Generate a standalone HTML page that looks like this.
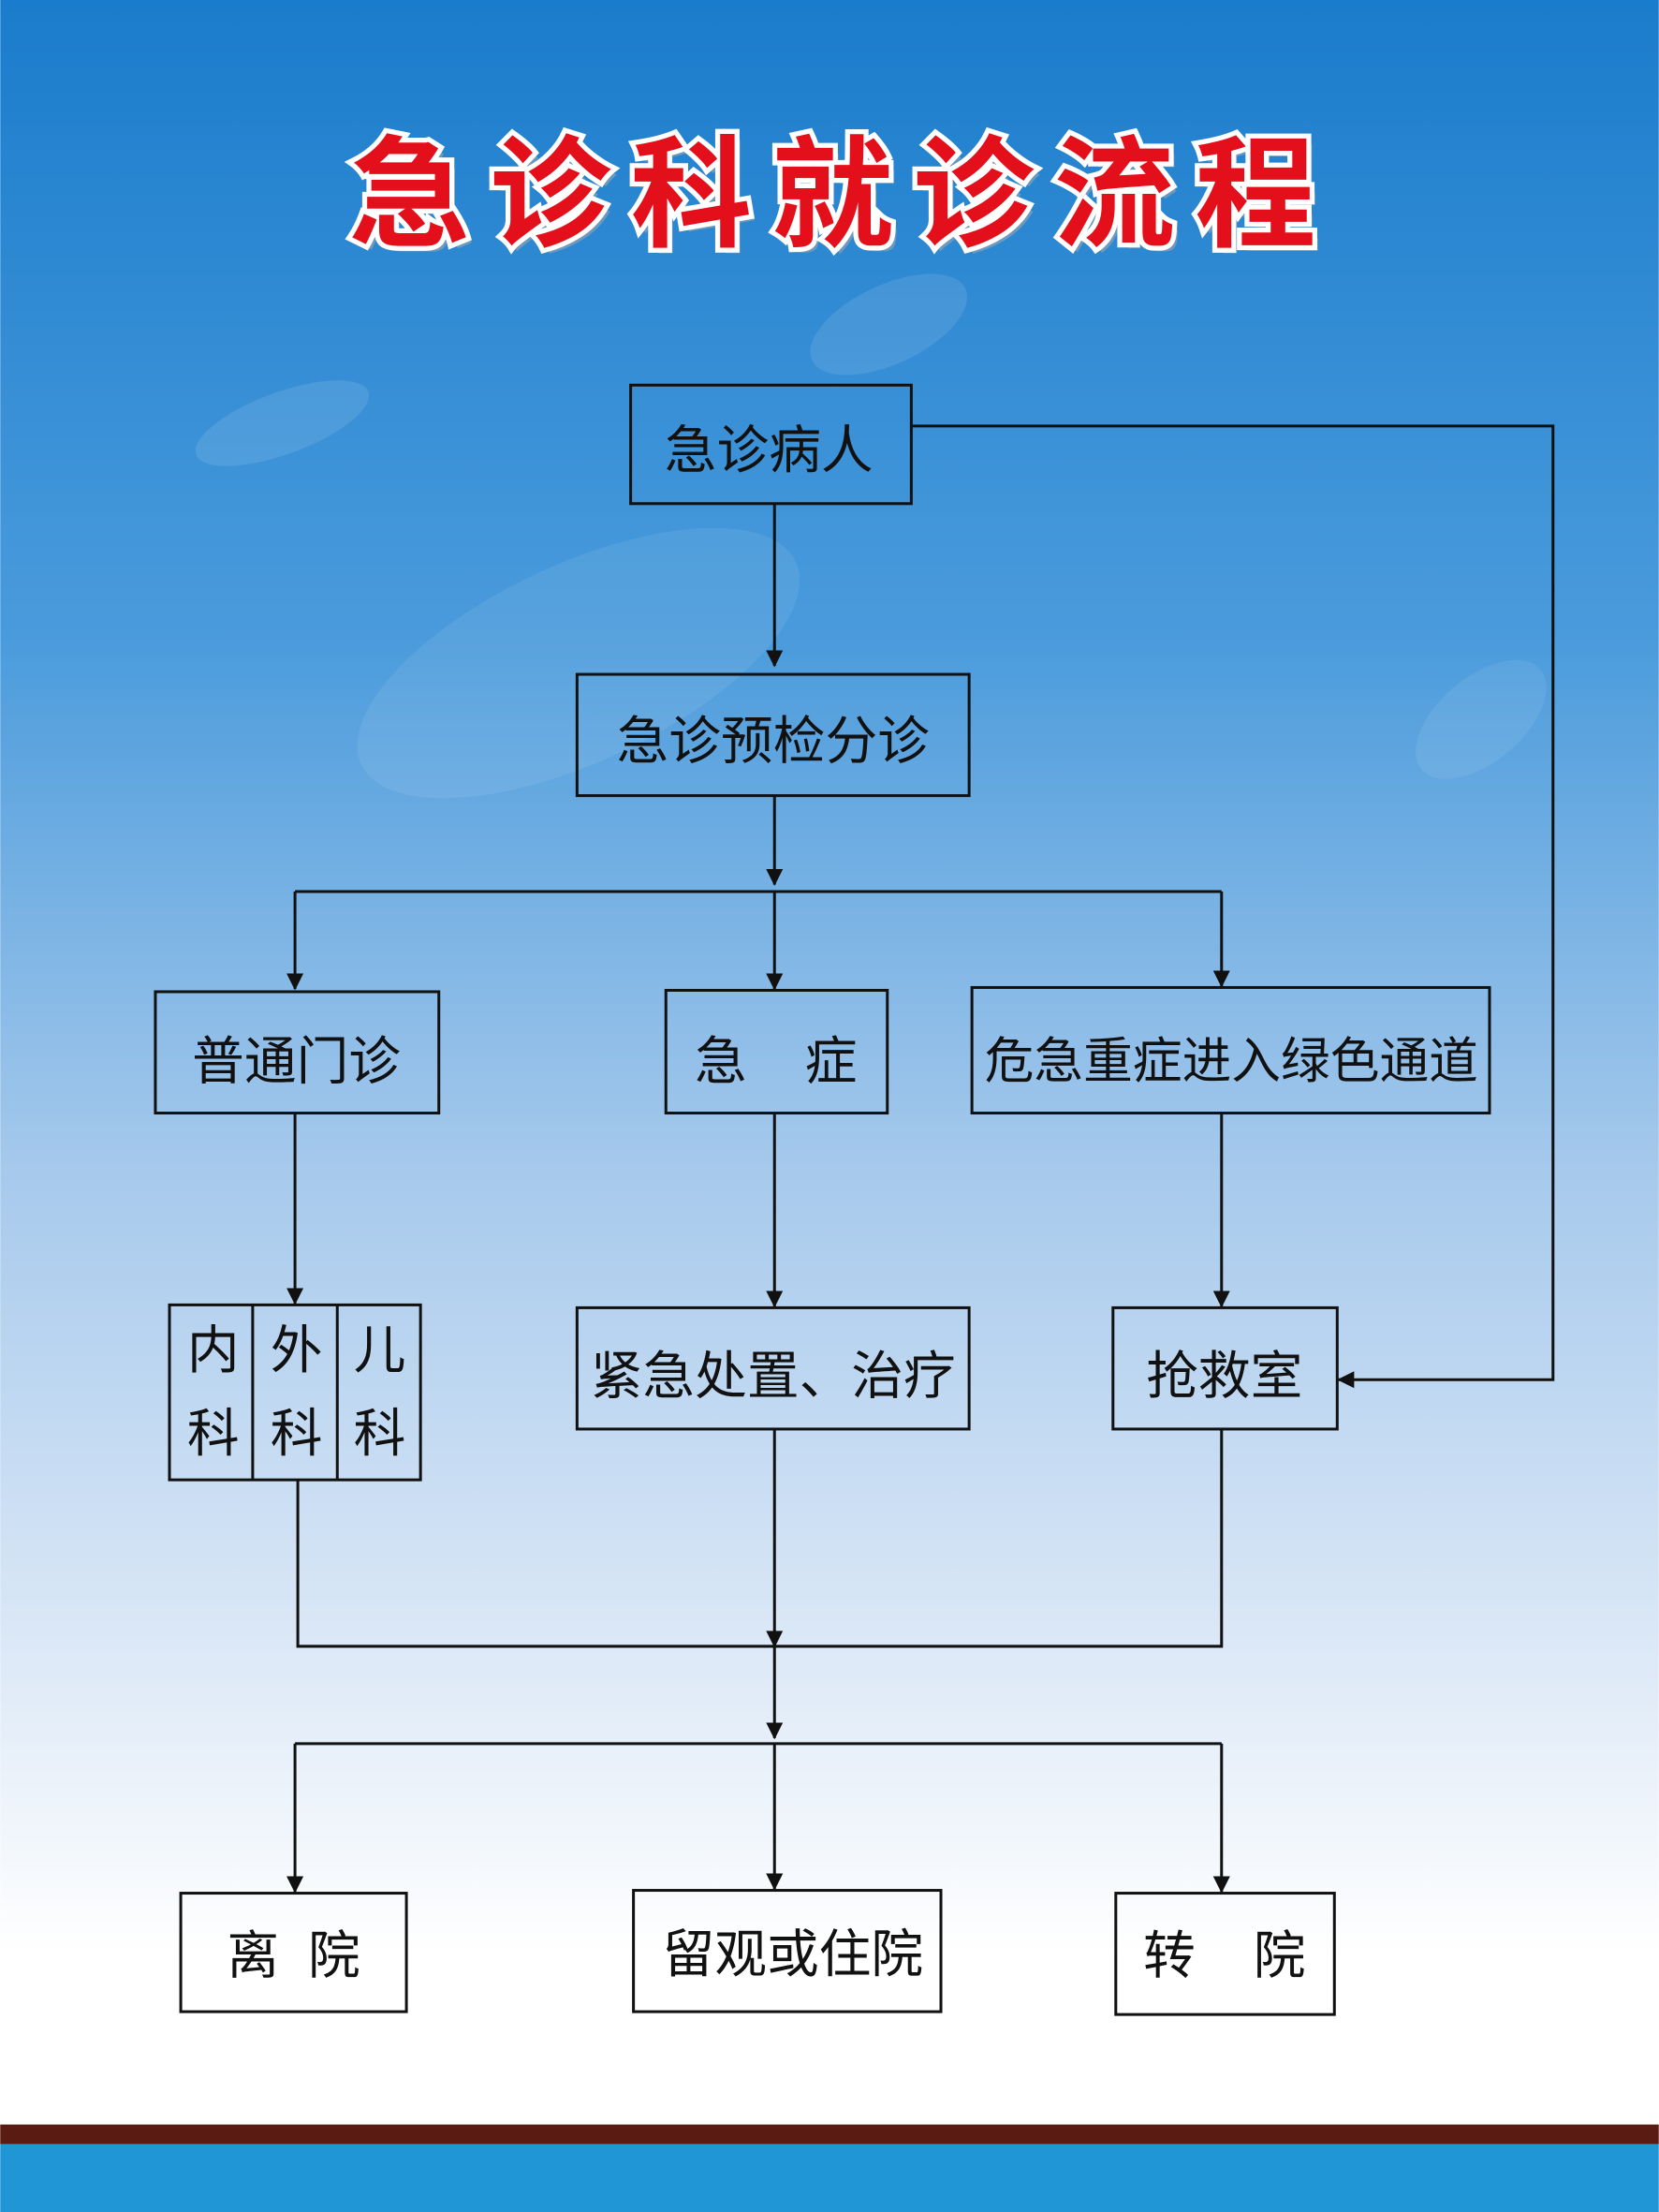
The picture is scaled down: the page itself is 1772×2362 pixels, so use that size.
<!DOCTYPE html>
<html><head><meta charset="utf-8">
<style>
html,body{margin:0;padding:0;width:1772px;height:2362px;overflow:hidden;}
svg{display:block;}
text{font-family:"Liberation Sans","Noto Sans CJK SC",sans-serif;}
</style></head>
<body>
<svg width="1772" height="2362" viewBox="0 0 1176 1568" xmlns="http://www.w3.org/2000/svg">
<defs>
<linearGradient id="bg" x1="0" y1="0" x2="0" y2="1">
<stop offset="0" stop-color="#1a7ccc"/>
<stop offset="0.3" stop-color="#4a9bdc"/>
<stop offset="0.55" stop-color="#a6c9ec"/>
<stop offset="0.78" stop-color="#dde9f7"/>
<stop offset="0.92" stop-color="#ffffff"/>
<stop offset="1" stop-color="#ffffff"/>
</linearGradient>
<marker id="ar" markerWidth="12" markerHeight="12" refX="11" refY="6" orient="auto" markerUnits="userSpaceOnUse">
<path d="M0,0 L12,6 L0,12 z" fill="#111"/>
</marker>
</defs>
<rect x="0" y="0" width="1176" height="1506" fill="url(#bg)"/>
<ellipse cx="410" cy="470" rx="170" ry="70" fill="#ffffff" opacity="0.08" transform="rotate(-25 410 470)"/>
<ellipse cx="630" cy="230" rx="60" ry="28" fill="#ffffff" opacity="0.1" transform="rotate(-25 630 230)"/>
<ellipse cx="200" cy="300" rx="65" ry="22" fill="#ffffff" opacity="0.1" transform="rotate(-20 200 300)"/>
<ellipse cx="1050" cy="510" rx="55" ry="30" fill="#ffffff" opacity="0.08" transform="rotate(-40 1050 510)"/>
<rect x="0" y="1506" width="1176" height="14" fill="#5a1c12"/>
<rect x="0" y="1520" width="1176" height="48" fill="#2196d6"/>

<!-- title -->
<g font-size="86" font-weight="bold" text-anchor="middle" fill="#9aa5b0" opacity="0.6" style="font-family:'Noto Sans CJK SC',sans-serif">
<text x="294" y="172">急</text><text x="394" y="172">诊</text><text x="494" y="172">科</text><text x="594" y="172">就</text><text x="694" y="172">诊</text><text x="794" y="172">流</text><text x="894" y="172">程</text>
</g>
<g font-size="86" font-weight="bold" text-anchor="middle" fill="#e3101c" stroke="#ffffff" stroke-width="7" paint-order="stroke" style="font-family:'Noto Sans CJK SC',sans-serif">
<text x="290" y="168">急</text><text x="390" y="168">诊</text><text x="490" y="168">科</text><text x="590" y="168">就</text><text x="690" y="168">诊</text><text x="790" y="168">流</text><text x="890" y="168">程</text>
</g>

<g fill="none" stroke="#111" stroke-width="2">
<rect x="447" y="273" width="199" height="84"/>
<rect x="409" y="478" width="278" height="86"/>
<rect x="110" y="703" width="201" height="86"/>
<rect x="472" y="702" width="157" height="87"/>
<rect x="689" y="700" width="367" height="89"/>
<rect x="120" y="925" width="178" height="124"/>
<line x1="179" y1="925" x2="179" y2="1049"/>
<line x1="239" y1="925" x2="239" y2="1049"/>
<rect x="409" y="927" width="278" height="86"/>
<rect x="789" y="927" width="159" height="86"/>
<rect x="128" y="1342" width="160" height="84"/>
<rect x="449" y="1340" width="218" height="86"/>
<rect x="791" y="1342" width="155" height="86"/>

<line x1="549" y1="357" x2="549" y2="472" marker-end="url(#ar)"/>
<line x1="549" y1="564" x2="549" y2="627" marker-end="url(#ar)"/>
<line x1="209" y1="632" x2="866" y2="632"/>
<line x1="209" y1="632" x2="209" y2="701" marker-end="url(#ar)"/>
<line x1="549" y1="632" x2="549" y2="701" marker-end="url(#ar)"/>
<line x1="866" y1="632" x2="866" y2="699" marker-end="url(#ar)"/>
<line x1="209" y1="789" x2="209" y2="924" marker-end="url(#ar)"/>
<line x1="549" y1="789" x2="549" y2="926" marker-end="url(#ar)"/>
<line x1="866" y1="789" x2="866" y2="926" marker-end="url(#ar)"/>
<polyline points="646,302 1101,302 1101,978 949,978" marker-end="url(#ar)"/>
<polyline points="211,1049 211,1167 866,1167 866,1013"/>
<line x1="549" y1="1013" x2="549" y2="1167" marker-end="url(#ar)"/>
<line x1="549" y1="1167" x2="549" y2="1232" marker-end="url(#ar)"/>
<line x1="209" y1="1236" x2="866" y2="1236"/>
<line x1="209" y1="1236" x2="209" y2="1341" marker-end="url(#ar)"/>
<line x1="549" y1="1236" x2="549" y2="1339" marker-end="url(#ar)"/>
<line x1="866" y1="1236" x2="866" y2="1341" marker-end="url(#ar)"/>
</g>

<g font-size="37" fill="#111" text-anchor="middle">
<text x="545" y="332">急诊病人</text>
<text x="548" y="538">急诊预检分诊</text>
<text x="210" y="765">普通门诊</text>
<text x="550" y="765" xml:space="preserve">急    症</text>
<text x="873" y="764" font-size="35">危急重症进入绿色通道</text>
<text x="151" y="970">内</text><text x="151" y="1029">科</text>
<text x="210" y="970">外</text><text x="210" y="1029">科</text>
<text x="269" y="970">儿</text><text x="269" y="1029">科</text>
<text x="548" y="988">紧急处置、治疗</text>
<text x="868" y="988">抢救室</text>
<text x="208" y="1399" xml:space="preserve">离  院</text>
<text x="562" y="1398">留观或住院</text>
<text x="868" y="1399" xml:space="preserve">转    院</text>
</g>
</svg>
</body></html>
